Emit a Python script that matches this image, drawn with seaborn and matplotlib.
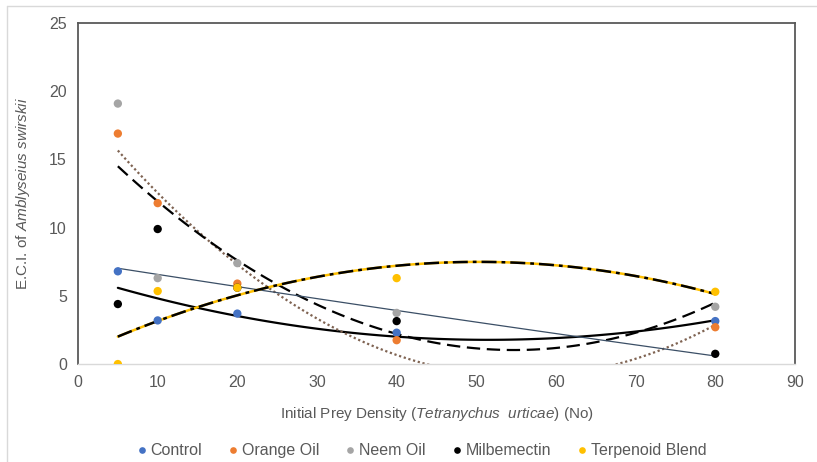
import numpy as np
import pandas as pd
import matplotlib
matplotlib.use("Agg")
import matplotlib.pyplot as plt
import seaborn as sns

# data
density = [5, 10, 20, 40, 80]
control = [6.8, 3.2, 3.7, 2.3, 3.15]
orange_oil = [16.9, 11.8, 5.9, 1.75, 2.7]
neem_oil = [19.1, 6.3, 7.4, 3.75, 4.2]
milbemectin = [4.4, 9.9, 5.6, 3.15, 0.75]
terpenoid = [0.0, 5.35, 5.6, 6.3, 5.3]

names = ["Control", "Orange Oil", "Neem Oil", "Milbemectin", "Terpenoid Blend"]
colors = ["#4472C4", "#ED7D31", "#A5A5A5", "#000000", "#FFC000"]

dp = pd.DataFrame({
    "density": density * 5,
    "eci": control + orange_oil + neem_oil + milbemectin + terpenoid,
    "series": [n for n in names for _ in density],
})

sns.set_style("white")
plt.rcParams['font.family'] = ['Liberation Sans', 'DejaVu Sans']
plt.rcParams['mathtext.fontset'] = 'custom'
plt.rcParams['mathtext.rm'] = 'Liberation Sans'
plt.rcParams['mathtext.it'] = 'Liberation Sans:italic'

fig = plt.figure(figsize=(8.17, 4.62), dpi=100)
ax = fig.add_axes([0.0955, 0.212, 0.8775, 0.738])

# polynomial (order 2) trendlines
def trend(vals, **kw):
    sns.regplot(x=density, y=vals, order=2, ci=None, scatter=False,
                truncate=True, ax=ax, line_kws=kw)

trend(control, color="black", lw=1.6)
trend(orange_oil, color="#7f6352", lw=1.6, ls=(0, (1, 1.2)))
trend(neem_oil, color="black", lw=1.6, ls=(0, (6, 3)))
trend(milbemectin, color="#3b4f66", lw=0.9)
trend(terpenoid, color="#FFC000", lw=1.8)
trend(terpenoid, color="black", lw=1.8, ls=(0, (6, 2, 1.5, 2)))

sns.scatterplot(data=dp, x="density", y="eci", hue="series", palette=colors,
                s=36, edgecolor=None, linewidth=0, ax=ax, zorder=5)

ax.set_xlim(0, 90)
ax.set_ylim(0, 25)
ax.set_xticks(range(0, 91, 10))
ax.set_yticks(range(0, 26, 5))
ax.tick_params(axis="both", length=0, labelsize=11.5, labelcolor="#595959", pad=8)

for s in ["left", "top", "right"]:
    ax.spines[s].set_color("#595959")
    ax.spines[s].set_linewidth(1.3)
ax.spines["bottom"].set_color("#d9d9d9")
ax.spines["bottom"].set_linewidth(1.0)

ax.set_xlabel(r"Initial Prey Density ($\mathit{Tetranychus\ \ urticae}$) (No)",
              fontsize=11, color="#595959", labelpad=11)
ax.set_ylabel(r"E.C.I. of $\mathit{Amblyseius\ swirskii}$",
              fontsize=11, color="#595959", labelpad=12)

ax.legend(loc="upper center", bbox_to_anchor=(0.48, -0.19), ncol=5,
          frameon=False, fontsize=11.5, handlelength=0.5, handletextpad=0.3,
          columnspacing=1.7, markerscale=0.8, labelcolor="#595959")

# outer chart-area border lines
fig.add_artist(plt.Line2D([0.009, 1], [0.987, 0.987], color="#d9d9d9", lw=1))
fig.add_artist(plt.Line2D([0.009, 0.009], [0, 0.987], color="#d9d9d9", lw=1))

plt.savefig("out.png", dpi=100)
